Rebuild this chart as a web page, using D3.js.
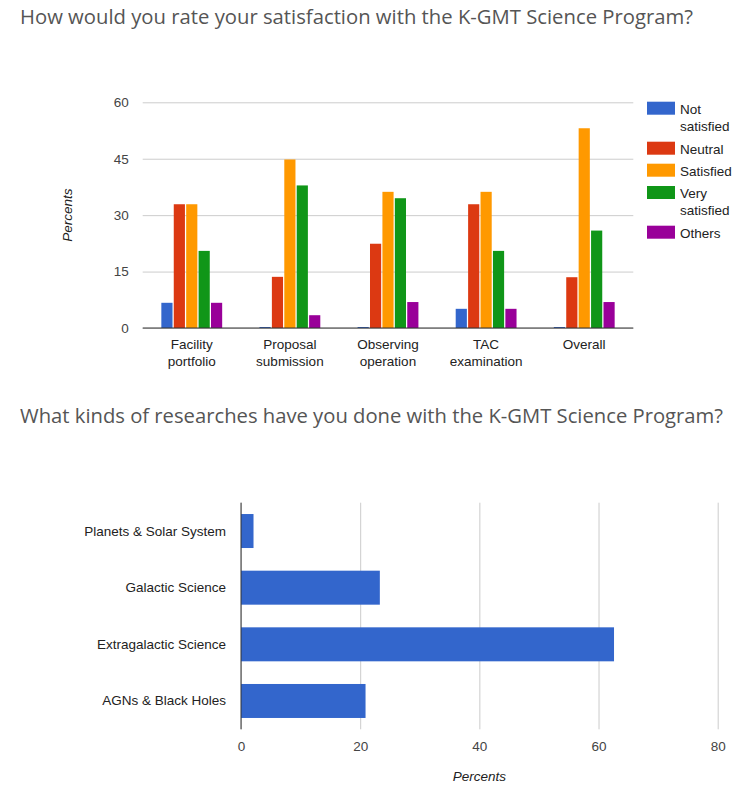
<!DOCTYPE html>
<html><head><meta charset="utf-8">
<script src="https://cdn.jsdelivr.net/npm/d3@7"></script>
<style>
body{margin:0;background:#fff;}
svg{display:block;}
text{font-family:Arial,"Liberation Sans",sans-serif;}
.title{font-family:"Open Sans",sans-serif;fill:#555;font-size:20px;}
</style></head>
<body><svg id="c" width="753" height="791"></svg>
<script>
// ---- Data: chart 1 ----
const title1 = "How would you rate your satisfaction with the K-GMT Science Program?";
const categories1 = [["Facility","portfolio"],["Proposal","submission"],["Observing","operation"],["TAC","examination"],["Overall"]];
const seriesNames = [["Not","satisfied"],["Neutral"],["Satisfied"],["Very","satisfied"],["Others"]];
const seriesColors = ["#3366cc","#dc3912","#ff9900","#109618","#990099"];
const notSatisfied  = [6.7, 0, 0, 5.1, 0];
const neutral       = [32.9, 13.6, 22.4, 32.9, 13.5];
const satisfied     = [32.9, 44.8, 36.2, 36.2, 53.1];
const verySatisfied = [20.5, 37.9, 34.5, 20.5, 25.9];
const others        = [6.7, 3.4, 6.9, 5.1, 6.9];
const yTicks1 = [0, 15, 30, 45, 60];
const yTitle1 = "Percents";

// ---- Data: chart 2 ----
const title2 = "What kinds of researches have you done with the K-GMT Science Program?";
const categories2 = ["Planets & Solar System","Galactic Science","Extragalactic Science","AGNs & Black Holes"];
const values2 = [2.1, 23.3, 62.6, 20.9];
const xTicks2 = [0, 20, 40, 60, 80];
const xTitle2 = "Percents";

const svg = d3.select("#c");
const series = [notSatisfied, neutral, satisfied, verySatisfied, others];
const FS = 13.5;

// Titles
function title(t, y, w){
  svg.append("text").attr("class","title").attr("x",20).attr("y",y).text(t)
    .attr("textLength",w).attr("lengthAdjust","spacingAndGlyphs");
}
title(title1, 24, 673);
title(title2, 423, 703);

// ---- Chart 1 ----
{
  const L=142.7, R=633.3, T=102.3, B=328;
  const x0 = d3.scaleBand().domain(d3.range(categories1.length)).range([L,R]).paddingInner(0.38).paddingOuter(0.19);
  const x1 = d3.scaleBand().domain(d3.range(series.length)).range([0,x0.bandwidth()]).paddingInner(0.1);
  const y = d3.scaleLinear().domain([0,60]).range([B,T]);
  const g = svg.append("g");
  const yAxis = d3.axisLeft(y).tickValues(yTicks1).tickSize(-(R-L)).tickPadding(14);
  const ga = g.append("g").attr("transform",`translate(${L},0)`).call(yAxis);
  ga.select(".domain").remove();
  ga.selectAll(".tick line").attr("stroke","#cccccc");
  ga.selectAll(".tick text").attr("font-size",FS).attr("fill","#444");
  series.forEach((vals, si)=>{
    g.selectAll(null).data(vals).enter().append("rect")
      .attr("x",(d,i)=>x0(i)+x1(si))
      .attr("width",x1.bandwidth())
      .attr("y",d=>Math.min(y(d), B-1))
      .attr("height",d=>Math.max(1, B-y(d)))
      .attr("fill",seriesColors[si]);
  });
  g.append("line").attr("x1",L).attr("x2",R).attr("y1",B).attr("y2",B).attr("stroke","#333");
  // x labels
  categories1.forEach((lines,i)=>{
    const t = g.append("text").attr("text-anchor","middle").attr("font-size",FS).attr("fill","#222")
      .attr("x",x0(i)+x0.bandwidth()/2).attr("y",349);
    lines.forEach((l,j)=>t.append("tspan").attr("x",x0(i)+x0.bandwidth()/2).attr("dy",j?17:0).text(l));
  });
  g.append("text").attr("transform",`translate(72,${(T+B)/2}) rotate(-90)`).attr("text-anchor","middle")
    .attr("font-size",FS).attr("font-style","italic").attr("fill","#222").text(yTitle1);
  // legend
  const ly = [101.7,141.7,163.7,186,225.7];
  seriesNames.forEach((lines,i)=>{
    g.append("rect").attr("x",647).attr("y",ly[i]).attr("width",28).attr("height",13).attr("fill",seriesColors[i]);
    const t = g.append("text").attr("font-size",FS).attr("fill","#222").attr("x",680).attr("y",ly[i]+12);
    lines.forEach((l,j)=>t.append("tspan").attr("x",680).attr("dy",j?17:0).text(l));
  });
}

// ---- Chart 2 ----
{
  const L=241, R=717.7, T=502.7, B=729.3;
  const x = d3.scaleLinear().domain([0,80]).range([L,R]);
  const y = d3.scaleBand().domain(categories2).range([T,B]).paddingInner(0.4).paddingOuter(0.2);
  const g = svg.append("g");
  const xAxis = d3.axisBottom(x).tickValues(xTicks2).tickSize(-(B-T)).tickPadding(12);
  const ga = g.append("g").attr("transform",`translate(0,${B})`).call(xAxis);
  ga.select(".domain").remove();
  ga.selectAll(".tick line").attr("stroke","#cccccc");
  ga.selectAll(".tick text").attr("font-size",FS).attr("fill","#444");
  g.selectAll(null).data(values2).enter().append("rect")
    .attr("x",L).attr("y",(d,i)=>y(categories2[i]))
    .attr("width",d=>x(d)-L).attr("height",y.bandwidth()).attr("fill","#3366cc");
  g.append("line").attr("x1",L).attr("x2",L).attr("y1",T).attr("y2",B).attr("stroke","#333");
  categories2.forEach(c=>{
    g.append("text").attr("text-anchor","end").attr("font-size",FS).attr("fill","#222")
      .attr("x",226).attr("y",y(c)+y.bandwidth()/2+4.5).text(c);
  });
  g.append("text").attr("text-anchor","middle").attr("font-size",FS).attr("font-style","italic").attr("fill","#222")
    .attr("x",(L+R)/2).attr("y",781).text(xTitle2);
}
</script></body></html>
